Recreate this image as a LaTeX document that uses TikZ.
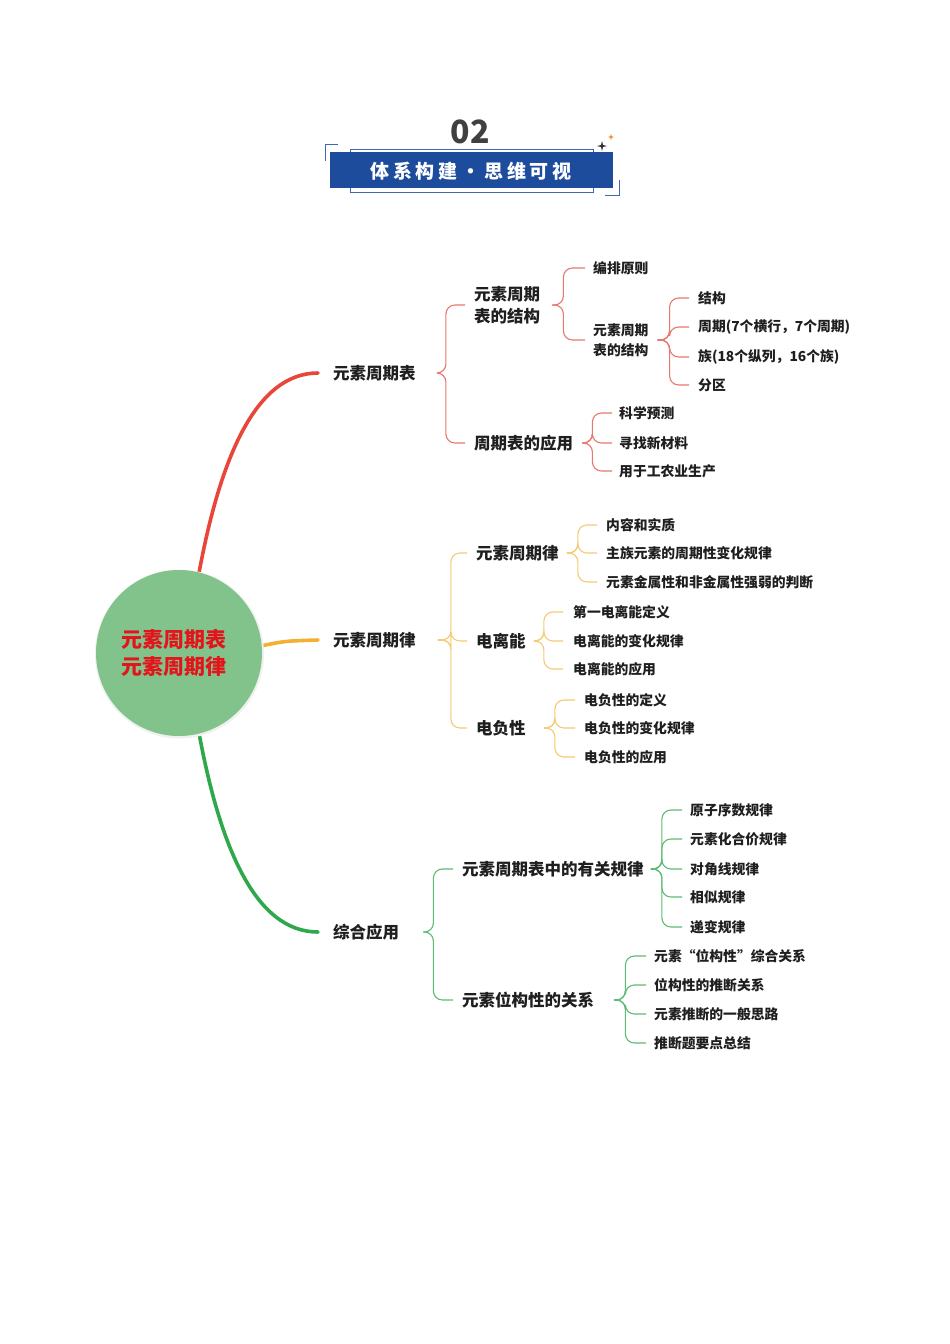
\documentclass[tikz,border=0pt]{standalone}
\usepackage{fontspec}
\setmainfont{Noto Sans CJK SC}
\usetikzlibrary{calc}
\definecolor{redB}{HTML}{E9463A}
\definecolor{redT}{HTML}{E8776C}
\definecolor{yelB}{HTML}{F3B033}
\definecolor{yelT}{HTML}{F5CB72}
\definecolor{grnB}{HTML}{2EA84B}
\definecolor{grnT}{HTML}{5DBB74}
\definecolor{circ}{HTML}{81C38B}
\definecolor{ttl}{HTML}{1D4C9D}
\definecolor{ttlL}{HTML}{3F68B3}
\definecolor{cred}{HTML}{E3141B}
\tikzset{
  lvone/.style={anchor=west, inner sep=0pt, text=black!88, font=\fontsize{16.5}{22}\selectfont\bfseries},
  lvtwo/.style={anchor=west, inner sep=0pt, text=black!88, align=left, font=\fontsize{16.5}{22}\selectfont\bfseries},
  leaf/.style={anchor=west, inner sep=0pt, text=black!88, align=left, font=\fontsize{13.8}{20}\selectfont\bfseries},
  rb/.style={draw=redB, line width=3.6pt, line cap=round},
  yb/.style={draw=yelB, line width=3.6pt, line cap=round},
  gb/.style={draw=grnB, line width=3.6pt, line cap=round},
  rt/.style={draw=redT, line width=1.1pt, rounded corners=9pt},
  yt/.style={draw=yelT, line width=1.1pt, rounded corners=9pt},
  gt/.style={draw=grnT, line width=1.1pt, rounded corners=9pt},
  frm/.style={draw=ttlL, line width=0.9pt},
}
\begin{document}
\begin{tikzpicture}[x=1pt, y=-1pt]
\useasboundingbox (0,0) rectangle (950,1344);
\fill[white] (0,0) rectangle (950,1344);

% ---------- header ----------
\node[inner sep=0pt, text=black!75, font=\fontsize{32}{34}\selectfont\bfseries] (num) at (470,132) {02};
\fill[ttl] (330,152) rectangle (613,188);
\node[inner sep=0pt, text=white, font=\fontsize{19}{22}\selectfont\bfseries\addfontfeature{LetterSpace=20}] (ttltext) at (471,171) {体系构建・思维可视};
\draw[frm] (350,152) -- (350,149) -- (593,149) -- (593,152);
\draw[frm] (350,188) -- (350,192) -- (593,192) -- (593,188);
\draw[frm] (338,144) -- (325,144) -- (325,161);
\draw[frm] (605,195) -- (619,195) -- (619,180);
\fill[black!80] (602,141) -- (603,145) -- (607,146) -- (603,147) -- (602,151) -- (601,147) -- (597,146) -- (601,145) -- cycle;
\fill[orange!80!brown] (611,134) -- (611.7,136.3) -- (614,137) -- (611.7,137.7) -- (611,140) -- (610.3,137.7) -- (608,137) -- (610.3,136.3) -- cycle;

% ---------- level 1 ----------
\node[lvone] (a) at (333,373) {元素周期表};
\node[lvone] (b) at (333,640) {元素周期律};
\node[lvone] (c) at (333,932) {综合应用};

% ---------- centre ----------
\node[circle, minimum size=166pt, inner sep=0pt] (cen) at (179,653) {};
\draw[rb] (cen.76) .. controls (220,460) and (255,373) .. ([xshift=-15pt]a.west);
\draw[gb] (cen.-76) .. controls (220,846) and (255,932) .. ([xshift=-15pt]c.west);
\draw[yb] (cen.5) .. controls (285,641) .. ([xshift=-15pt]b.west);
\fill[black!6] (179.5,654) circle (84.5);
\fill[circ] (cen.center) circle (83);
\node[inner sep=0pt, align=center, text=cred, font=\fontsize{21}{27}\selectfont\bfseries] (centext) at (174,653) {元素周期表\\元素周期律};

% ---------- red branch ----------
\node[lvtwo] (a1) at (474,305) {元素周期\\表的结构};
\node[lvtwo] (a2) at (474,443) {周期表的应用};
\node[leaf] (a11) at (593,268) {编排原则};
\node[leaf] (a12) at (593,340) {元素周期\\表的结构};
\node[leaf] (a121) at (698,298) {结构};
\node[leaf] (a122) at (698,327) {周期(7个横行，7个周期)};
\node[leaf] (a123) at (698,357) {族(18个纵列，16个族)};
\node[leaf] (a124) at (698,385) {分区};
\node[leaf] (a21) at (619,413) {科学预测};
\node[leaf] (a22) at (619,443) {寻找新材料};
\node[leaf] (a23) at (619,471) {用于工农业生产};

\foreach \t in {a1,a2} \draw[rt] ([xshift=21pt]a.east) -- ++(9,0) |- ([xshift=-9pt]\t.west);
\foreach \t in {a11,a12} \draw[rt] ([xshift=12pt]a1.east) -- ++(11,0) |- ([xshift=-8pt]\t.west);
\foreach \t in {a121,a122,a123,a124} \draw[rt] ([xshift=9pt]a12.east) -- ++(12,0) |- ([xshift=-9pt]\t.west);
\foreach \t in {a21,a22,a23} \draw[rt] ([xshift=9pt]a2.east) -- ++(10,0) |- ([xshift=-7pt]\t.west);

% ---------- yellow branch ----------
\node[lvtwo] (b1) at (476,553) {元素周期律};
\node[lvtwo] (b2) at (476,641) {电离能};
\node[lvtwo] (b3) at (476,728) {电负性};
\node[leaf] (b11) at (606,525) {内容和实质};
\node[leaf] (b12) at (606,553) {主族元素的周期性变化规律};
\node[leaf] (b13) at (606,582) {元素金属性和非金属性强弱的判断};
\node[leaf] (b21) at (573,612) {第一电离能定义};
\node[leaf] (b22) at (573,641) {电离能的变化规律};
\node[leaf] (b23) at (573,669) {电离能的应用};
\node[leaf] (b31) at (584,700) {电负性的定义};
\node[leaf] (b32) at (584,728) {电负性的变化规律};
\node[leaf] (b33) at (584,757) {电负性的应用};

\foreach \t in {b1,b2,b3} \draw[yt] ([xshift=22pt]b.east) -- ++(13,0) |- ([xshift=-9pt]\t.west);
\foreach \t in {b11,b12,b13} \draw[yt] ([xshift=8pt]b1.east) -- ++(11,0) |- ([xshift=-9pt]\t.west);
\foreach \t in {b21,b22,b23} \draw[yt] ([xshift=8pt]b2.east) -- ++(10,0) |- ([xshift=-10pt]\t.west);
\foreach \t in {b31,b32,b33} \draw[yt] ([xshift=18pt]b3.east) -- ++(11,0) |- ([xshift=-9pt]\t.west);

% ---------- green branch ----------
\node[lvtwo] (c1) at (462,869) {元素周期表中的有关规律};
\node[lvtwo] (c2) at (462,1000) {元素位构性的关系};
\node[leaf] (c11) at (690,810) {原子序数规律};
\node[leaf] (c12) at (690,839) {元素化合价规律};
\node[leaf] (c13) at (690,869) {对角线规律};
\node[leaf] (c14) at (690,897) {相似规律};
\node[leaf] (c15) at (690,927) {递变规律};
\node[leaf] (c21) at (654,956) {元素“位构性”综合关系};
\node[leaf] (c22) at (654,985) {位构性的推断关系};
\node[leaf] (c23) at (654,1014) {元素推断的一般思路};
\node[leaf] (c24) at (654,1043) {推断题要点总结};

\foreach \t in {c1,c2} \draw[gt] ([xshift=24pt]c.east) -- ++(10,0) |- ([xshift=-9pt]\t.west);
\foreach \t in {c11,c12,c13,c14,c15} \draw[gt] ([xshift=7pt]c1.east) -- ++(11,0) |- ([xshift=-8pt]\t.west);
\foreach \t in {c21,c22,c23,c24} \draw[gt] ([xshift=20pt]c2.east) -- ++(11,0) |- ([xshift=-8pt]\t.west);
\end{tikzpicture}
\end{document}
